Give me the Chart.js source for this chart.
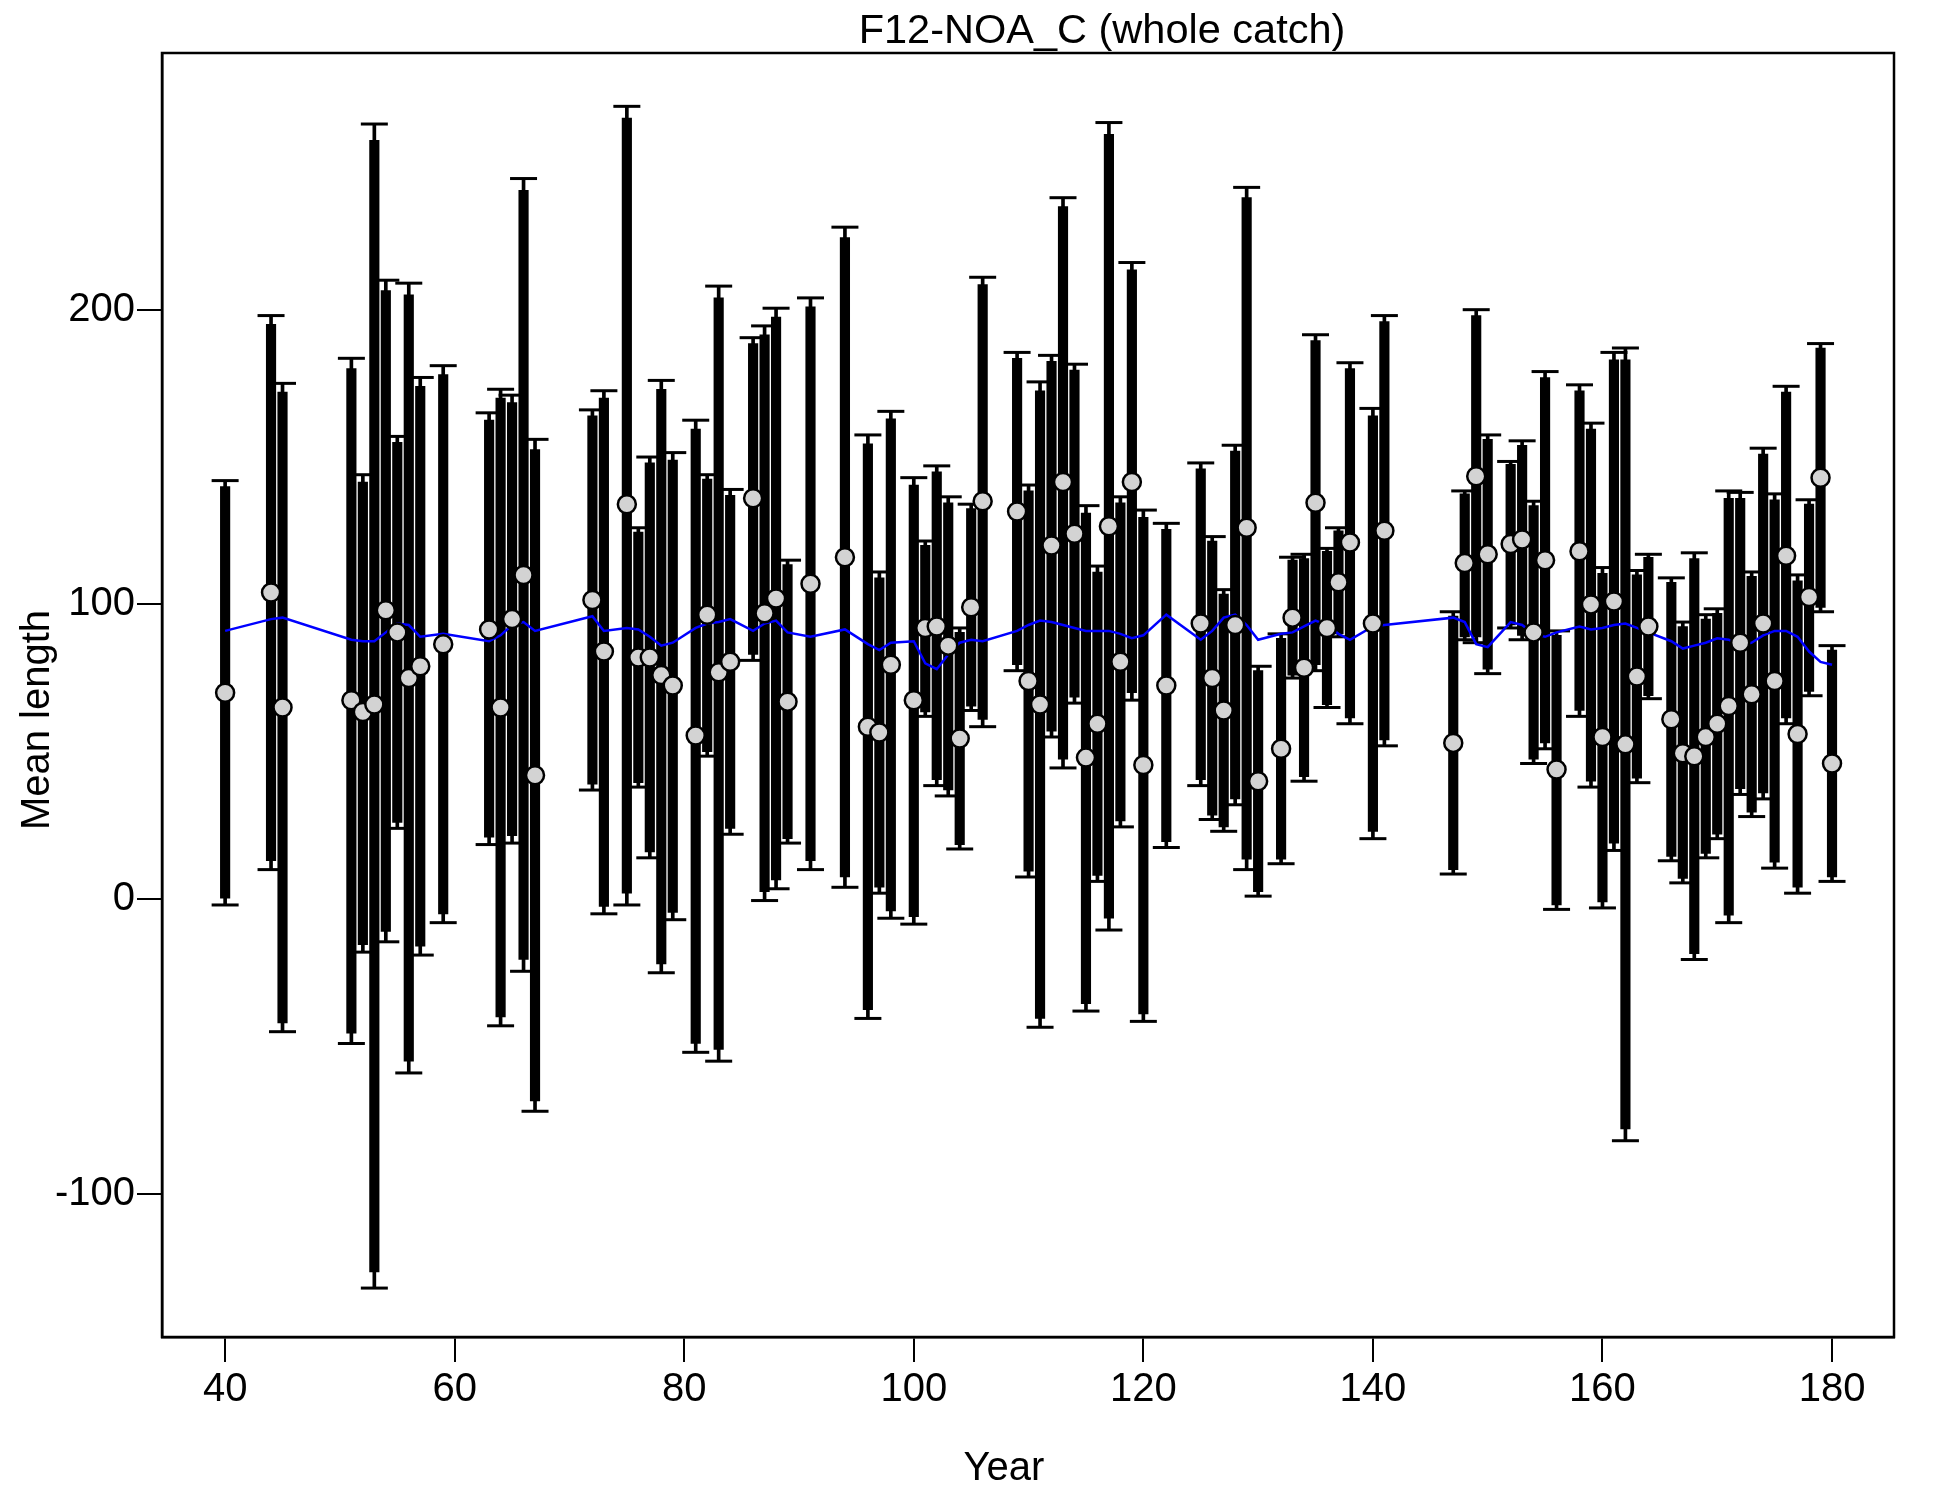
<!DOCTYPE html>
<html>
<head>
<meta charset="utf-8">
<title>F12-NOA_C (whole catch)</title>
<script src="https://cdn.jsdelivr.net/npm/chart.js@4.4.1/dist/chart.umd.min.js"></script>
<style>
  html, body { margin: 0; padding: 0; background: #fff; }
  #wrap { width: 1950px; height: 1500px; }
</style>
</head>
<body>
<div id="wrap"><canvas id="myChart" width="1950" height="1500"></canvas></div>
<script>
const chartTitle = 'F12-NOA_C (whole catch)';
const xTitle = 'Year';
const yTitle = 'Mean length';

const xTicks = [40, 60, 80, 100, 120, 140, 160, 180];
const yTicks = [-100, 0, 100, 200];

const years = [40, 44, 45, 51, 52, 53, 54, 55, 56, 57, 59, 63, 64, 65, 66, 67, 72, 73, 75, 76,
  77, 78, 79, 81, 82, 83, 84, 86, 87, 88, 89, 91, 94, 96, 97, 98, 100, 101, 102, 103,
  104, 105, 106, 109, 110, 111, 112, 113, 114, 115, 116, 117, 118, 119, 120, 122, 125, 126, 127, 128,
  129, 130, 132, 133, 134, 135, 136, 137, 138, 140, 141, 147, 148, 149, 150, 152, 153, 154, 155, 156,
  158, 159, 160, 161, 162, 163, 164, 166, 167, 168, 169, 170, 171, 172, 173, 174, 175, 176, 177, 178,
  179, 180];

// observed mean length
const obsMean = [70, 104, 65, 67.5, 63.5, 66, 98, 90.5, 75, 79, 86.5, 91.5, 65, 95, 110, 42, 101.5, 84, 134, 82,
  82, 76, 72.5, 55.5, 96.5, 77, 80.5, 136, 97, 102, 67, 107, 116, 58.5, 56.5, 79.5, 67.5, 92, 92.5, 86,
  54.5, 99, 135, 131.5, 74, 66, 120, 141.5, 124, 48, 59.5, 126.5, 80.5, 141.5, 45.5, 72.5, 93.5, 75, 64, 93,
  126, 40, 51, 95.5, 78.5, 134.5, 92, 107.5, 121, 93.5, 125, 53, 114, 143.5, 117, 120.5, 122, 90.5, 115, 44,
  118, 100, 55, 101, 52.5, 75.5, 92.5, 61, 49.5, 48.5, 55, 59.5, 65.5, 87, 69.5, 93.5, 74, 116.5, 56, 102.5,
  143, 46];

// outer (adjusted) interval, thin whisker with caps
const capLow = [-2, 10, -45, -49, -18, -132, -14.5, 24, -59, -19, -8, 18.5, -43, 19, -24.5, -72, 37, -5, -2, 38,
  14, -25, -7, -52, 48.5, -55, 22, 81, -0.5, 3.5, 19, 10, 4, -40.5, 2, -6.5, -8.5, 62, 38.5, 35,
  17, 64, 58.5, 77.5, 7.5, -43.5, 55, 44.5, 66.5, -38, 6, -10.5, 24.5, 67.5, -41.5, 17.5, 38.5, 27, 23, 32,
  10, 1, 12, 75, 40, 77.5, 65, 89, 59.5, 20.5, 52, 8.5, 88, 87, 76.5, 92, 88, 46, 51, -3.5,
  62, 38, -3, 16.5, -82, 39.5, 68, 13, 5.5, -20.5, 14, 20.5, -8, 35.5, 28, 34, 10.5, 59.5, 2, 69,
  97.5, 6];
const capHigh = [142, 198, 175, 183.5, 144, 263, 210, 157, 209, 177, 181, 165, 173, 171, 244.5, 156, 166, 172.5, 269, 126,
  150, 176, 151.5, 162.5, 144, 208, 139, 190.5, 194.5, 200.5, 115, 204, 228, 157.5, 111, 165.5, 143, 121.5, 147, 136.5,
  92, 134, 211, 185.5, 140.5, 175.5, 184.5, 238, 181.5, 133.5, 113, 263.5, 136.5, 216, 132, 127.5, 148, 123, 105, 154,
  241.5, 79, 90, 116, 117, 191.5, 119, 126, 182, 166.5, 198, 97.5, 138.5, 200, 157.5, 148.5, 155.5, 135, 179, 91,
  174.5, 161.5, 112.5, 185.5, 187, 111.5, 117, 109, 94, 117.5, 96.5, 98.5, 138.5, 138, 111, 153, 137.5, 174, 110, 135.5,
  188.5, 86];

// inner (input sample size) interval, thick bar
const barLow = [0, 13, -42, -45.5, -15.5, -126.5, -11, 26, -55, -16, -5, 21, -40, 21.5, -20.5, -68.5, 39, -2.5, 2, 39.5,
  16, -22, -4.5, -49, 50, -51, 24, 83, 2.5, 6.5, 20.5, 13, 7.5, -37.5, 4, -4, -6, 63.5, 40.5, 37,
  18.5, 65.5, 61, 79.5, 9.5, -40.5, 57, 47.5, 68.5, -35.5, 8, -6.5, 26.5, 70, -39, 19.5, 40.5, 28.5, 24.5, 34,
  13.5, 2.5, 13.5, 76, 41.5, 79.5, 66, 90, 61.5, 23, 54, 10, 89, 89, 78, 93, 89.5, 47.5, 53, -2,
  64, 40, -1, 19, -78, 41, 69, 14.5, 7, -18.5, 15.5, 22, -5.5, 37.5, 29.5, 36, 12.5, 61.5, 4, 70.5,
  99, 7.5];
const barHigh = [140, 195, 172, 180, 141.5, 257.5, 206.5, 155, 205, 174, 178, 162.5, 170, 168.5, 240.5, 152.5, 164, 170, 265, 124.5,
  148, 173, 149, 159.5, 142.5, 204, 137, 188.5, 191.5, 197.5, 113.5, 201, 224.5, 154.5, 109, 163, 140.5, 120, 145, 134.5,
  90.5, 132.5, 208.5, 183.5, 138.5, 172.5, 182.5, 235, 179.5, 131, 111, 259.5, 134.5, 213.5, 129.5, 125.5, 146, 121.5, 103.5, 152,
  238, 77.5, 88.5, 115, 115.5, 189.5, 118, 125, 180, 164, 196, 96, 137.5, 198, 156, 147.5, 154, 133.5, 177, 89.5,
  172.5, 159.5, 110.5, 183, 183, 110, 116, 107.5, 92.5, 115.5, 95, 97, 136, 136, 109.5, 151, 135.5, 172, 108, 134,
  187, 84.5];

// expected mean length (model fit)
const expMean = [91, 95, 95.5, 88, 87.5, 87.5, 90.5, 93.5, 93, 89, 90, 87.5, 89.5, 93, 94, 91, 96, 91, 92, 91.5,
  89, 86, 87, 92, 93.5, 94, 95, 91, 93.5, 94.5, 90.5, 89, 91.5, 86.5, 84.5, 87, 87.5, 80, 78, 83,
  87, 88, 87.5, 91, 93, 94.5, 94, 93, 92, 91, 91, 91, 90, 88.5, 89.5, 96.5, 88, 91, 95.5, 96.5,
  93, 88, 90, 90.5, 92.5, 94.5, 93, 90, 88, 92.5, 93, 95.5, 94, 86.5, 85.5, 94, 93, 90, 89, 90.5,
  92.5, 91.5, 92, 93, 93.5, 92, 90.5, 87.5, 85, 86, 87, 88.5, 88, 86, 87, 89.5, 91, 91, 89, 84,
  80.5, 79.5];

const FONT = 'Liberation Sans, Arial, Helvetica, sans-serif';

const frameAndText = {
    id: 'frameAndText',
    afterDraw(chart) {
        const ctx = chart.ctx;
        const a = chart.chartArea;
        ctx.save();
        ctx.strokeStyle = '#000';
        ctx.lineWidth = 2.5;
        ctx.strokeRect(a.left, a.top, a.right - a.left, a.bottom - a.top);

        ctx.fillStyle = '#000';
        ctx.textAlign = 'center';
        ctx.textBaseline = 'alphabetic';
        ctx.font = '41.5px ' + FONT;
        ctx.fillText(chartTitle, 1102, 43);
        ctx.font = '40px ' + FONT;
        ctx.fillText(xTitle, 1004, 1480);

        ctx.translate(49, 720);
        ctx.rotate(-Math.PI / 2);
        ctx.fillText(yTitle, 0, 0);
        ctx.restore();
    }
};

const ctx = document.getElementById('myChart').getContext('2d');

const thinData = years.map((x, i) => ({ x: x, y: [capLow[i], capHigh[i]] }));
const thickData = years.map((x, i) => ({ x: x, y: [barLow[i], barHigh[i]] }));
const capHiData = years.map((x, i) => ({ x: x, y: capHigh[i] }));
const capLoData = years.map((x, i) => ({ x: x, y: capLow[i] }));
const obsData = years.map((x, i) => ({ x: x, y: obsMean[i] }));
const expData = years.map((x, i) => ({ x: x, y: expMean[i] }));

const tickFont = { family: FONT, size: 40 };

const myChart = new Chart(ctx, {
    type: 'bar',
    data: {
        datasets: [
            {
                type: 'line', label: 'obs', data: obsData, order: 0,
                showLine: false, pointRadius: 9, pointBorderWidth: 2.5,
                pointBackgroundColor: '#d3d3d3', pointBorderColor: '#000'
            },
            {
                type: 'line', label: 'exp', data: expData, order: 1,
                borderColor: '#0000ff', borderWidth: 2.5, pointRadius: 0, tension: 0, fill: false
            },
            {
                type: 'line', label: 'capHi', data: capHiData, order: 2,
                showLine: false, pointStyle: 'line', pointRadius: 13.5, pointBorderWidth: 3,
                pointBorderColor: '#000'
            },
            {
                type: 'line', label: 'capLo', data: capLoData, order: 2,
                showLine: false, pointStyle: 'line', pointRadius: 13.5, pointBorderWidth: 3,
                pointBorderColor: '#000'
            },
            {
                type: 'bar', label: 'thick', data: thickData, order: 3,
                backgroundColor: '#000', borderWidth: 0, barThickness: 9.5, grouped: false
            },
            {
                type: 'bar', label: 'thin', data: thinData, order: 4,
                backgroundColor: '#000', borderWidth: 0, barThickness: 3, grouped: false
            }
        ]
    },
    options: {
        responsive: false,
        animation: false,
        devicePixelRatio: 1,
        layout: { padding: { top: 53, right: 56, left: 0, bottom: 0 } },
        plugins: {
            legend: { display: false },
            tooltip: { enabled: false },
            title: { display: false }
        },
        scales: {
            x: {
                type: 'linear',
                min: 34.5,
                max: 185.4,
                offset: false,
                afterFit: s => { s.height = 163; },
                afterBuildTicks: s => { s.ticks = xTicks.map(v => ({ value: v })); },
                grid: { display: true, offset: false, drawOnChartArea: false, drawTicks: true, tickLength: 25, color: '#000', lineWidth: 2 },
                border: { display: true, color: '#000', width: 2.5 },
                ticks: { font: tickFont, color: '#000', padding: 4, maxRotation: 0, autoSkip: false,
                    callback: v => String(v) }
            },
            y: {
                type: 'linear',
                min: -148.6,
                max: 287.1,
                afterFit: s => { s.width = 162; },
                afterBuildTicks: s => { s.ticks = yTicks.map(v => ({ value: v })); },
                grid: { display: true, offset: false, drawOnChartArea: false, drawTicks: true, tickLength: 25, color: '#000', lineWidth: 2 },
                border: { display: true, color: '#000', width: 2.5 },
                ticks: { font: tickFont, color: '#000', padding: 2, autoSkip: false,
                    callback: v => String(v) }
            }
        }
    },
    plugins: [frameAndText]
});
</script>
</body>
</html>
